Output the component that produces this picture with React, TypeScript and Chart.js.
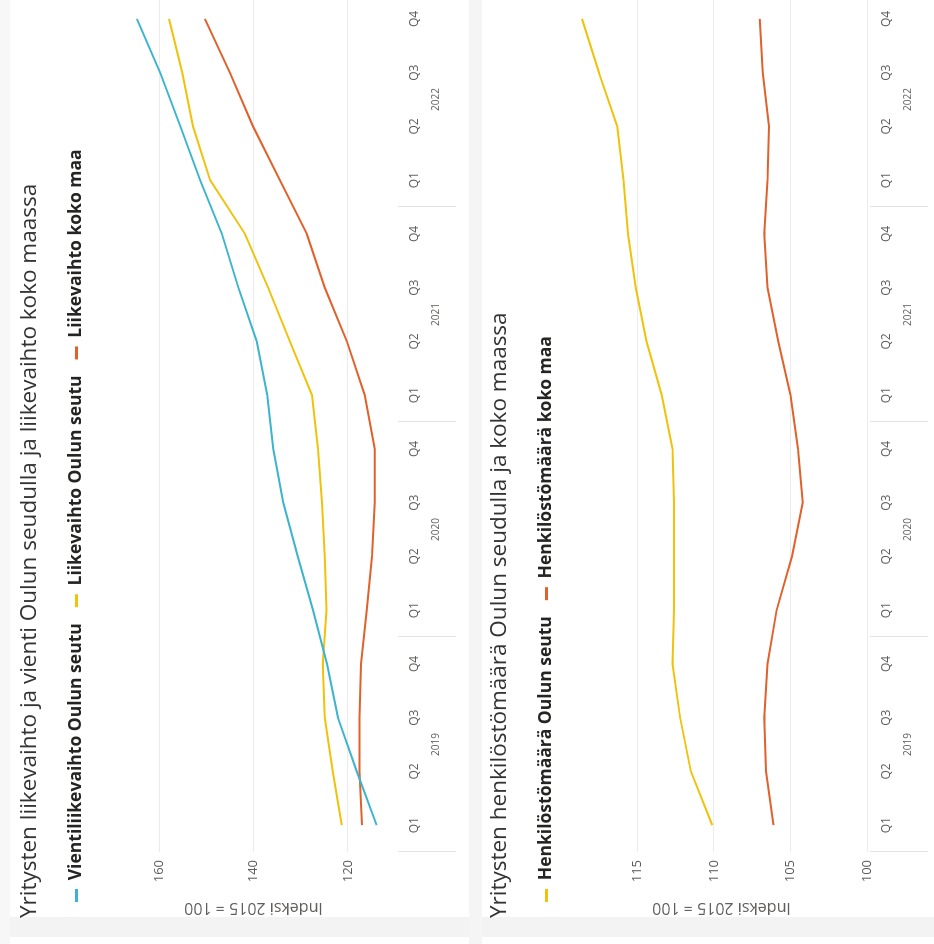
import React, { useEffect, useRef } from 'react';
import { Chart, registerables } from 'chart.js';

Chart.register(...registerables);
Chart.defaults.font.family = "'Open Sans', 'Noto Sans', sans-serif";

const quarters = ['Q1', 'Q2', 'Q3', 'Q4', 'Q1', 'Q2', 'Q3', 'Q4', 'Q1', 'Q2', 'Q3', 'Q4', 'Q1', 'Q2', 'Q3', 'Q4'];
const years = ['2019', '2020', '2021', '2022'];

const title1 = 'Yritysten liikevaihto ja vienti Oulun seudulla ja liikevaihto koko maassa';
const title2 = 'Yritysten henkilöstömäärä Oulun seudulla ja koko maassa';
const axisTitle = 'Indeksi 2015 = 100';

const vientiOulu = [113.9, 118.1, 122.1, 124.4, 127.4, 130.6, 133.7, 135.8, 137.1, 139.3, 143.2, 146.7, 151.3, 155.5, 159.8, 164.7];
const liikevaihtoOulu = [121.3, 123.2, 124.9, 125.3, 124.5, 124.9, 125.5, 126.3, 127.6, 132.3, 136.9, 141.8, 149.2, 152.8, 155.1, 157.9];
const liikevaihtoMaa = [117.0, 117.5, 117.5, 117.2, 116.0, 114.9, 114.3, 114.3, 116.4, 120.2, 124.9, 128.7, 134.4, 140.1, 145.0, 150.3];

const henkilostoOulu = [110.1, 111.5, 112.2, 112.7, 112.6, 112.6, 112.6, 112.7, 113.4, 114.4, 115.1, 115.6, 115.9, 116.3, 117.5, 118.6];
const henkilostoMaa = [106.1, 106.6, 106.7, 106.5, 105.9, 104.9, 104.2, 104.5, 105.0, 105.8, 106.5, 106.7, 106.5, 106.4, 106.8, 107.0];

const CYAN = '#3DB4CF';
const YELLOW = '#F0C20C';
const ORANGE = '#E0612B';
const TEXT = '#252423';
const TICK = '#605E5C';

const yearSeparators = {
  id: 'yearSeparators',
  afterDraw(chart: any) {
    const x = chart.scales.x;
    const ctx = chart.ctx;
    const half = (x.getPixelForValue(1) - x.getPixelForValue(0)) / 2;
    const top = chart.chartArea.bottom + 3;
    const bottom = top + 58;
    ctx.save();
    ctx.strokeStyle = '#e2e2e2';
    ctx.lineWidth = 1;
    for (let i = 0; i <= quarters.length; i += 4) {
      const px = i < quarters.length ? x.getPixelForValue(i) - half : x.getPixelForValue(i - 1) + half;
      ctx.beginPath();
      ctx.moveTo(Math.round(px) + 0.5, top);
      ctx.lineTo(Math.round(px) + 0.5, bottom);
      ctx.stroke();
    }
    ctx.restore();
  },
};

function line(label: string, data: number[], color: string) {
  return {
    label,
    data,
    borderColor: color,
    backgroundColor: color,
    borderWidth: 2,
    pointRadius: 0,
    tension: 0,
    fill: false,
  };
}

function makeConfig(opts: {
  title: string;
  datasets: any[];
  min: number;
  max: number;
  step: number;
  labelStep: number;
  spacer: number;
  bottomPad: number;
}): any {
  return {
    type: 'line',
    data: { labels: quarters, datasets: opts.datasets },
    plugins: [yearSeparators],
    options: {
      responsive: false,
      maintainAspectRatio: false,
      animation: false,
      layout: { padding: { left: 13, right: 6, top: 0, bottom: opts.bottomPad } },
      plugins: {
        title: {
          display: true,
          text: opts.title,
          align: 'start',
          color: '#333333',
          font: { size: 22.5, weight: 'normal' },
          padding: { top: 16.5, bottom: 8.25 },
        },
        legend: {
          display: true,
          position: 'top',
          align: 'start',
          labels: {
            boxWidth: 13,
            boxHeight: 3,
            padding: 16,
            color: TEXT,
            font: { size: 17.5, weight: 'bold' },
            generateLabels: (chart: any) =>
              Chart.defaults.plugins.legend.labels
                .generateLabels(chart)
                .map((l: any) => ({ ...l, lineWidth: 0 })),
          },
        },
        subtitle: {
          display: true,
          text: '',
          weight: 500,
          font: { size: 1 },
          padding: { top: opts.spacer, bottom: 0 },
        },
        tooltip: { enabled: false },
      },
      scales: {
        x: {
          type: 'category',
          offset: true,
          grid: { display: false, drawTicks: false },
          border: { display: false },
          ticks: { padding: 12, color: TICK, font: { size: 12 }, maxRotation: 0, autoSkip: false },
          afterFit: (s: any) => {
            s.height = 30;
          },
        },
        year: {
          type: 'category',
          labels: years,
          position: 'bottom',
          offset: true,
          weight: 1,
          grid: { display: false, drawTicks: false },
          border: { display: false },
          ticks: { padding: 5, color: TICK, font: { size: 10 }, maxRotation: 0, autoSkip: false },
          afterFit: (s: any) => {
            s.height = 20;
          },
        },
        y: {
          type: 'linear',
          min: opts.min,
          max: opts.max,
          afterBuildTicks: (axis: any) => {
            axis.ticks = axis.ticks.filter((t: any) => t.value % opts.labelStep === 0);
          },
          grid: { color: '#ebebeb', drawTicks: false, lineWidth: 1 },
          border: { display: false },
          ticks: { stepSize: opts.step, padding: 8, color: TICK, font: { size: 13 } },
          title: {
            display: true,
            text: axisTitle,
            color: TICK,
            font: { size: 16 },
            padding: { top: 1, bottom: 0 },
          },
          afterFit: (s: any) => {
            s.width = 66;
          },
        },
      },
    },
  };
}

export default function App() {
  const ref1 = useRef<HTMLCanvasElement>(null);
  const ref2 = useRef<HTMLCanvasElement>(null);

  useEffect(() => {
    const c1 = new Chart(
      ref1.current as HTMLCanvasElement,
      makeConfig({
        title: title1,
        datasets: [
          line('Vientiliikevaihto Oulun seutu', vientiOulu, CYAN),
          line('Liikevaihto Oulun seutu', liikevaihtoOulu, YELLOW),
          line('Liikevaihto koko maa', liikevaihtoMaa, ORANGE),
        ],
        min: 110,
        max: 170,
        step: 10,
        labelStep: 20,
        spacer: 15.5,
        bottomPad: 25,
      })
    );
    const c2 = new Chart(
      ref2.current as HTMLCanvasElement,
      makeConfig({
        title: title2,
        datasets: [
          line('Henkilöstömäärä Oulun seutu', henkilostoOulu, YELLOW),
          line('Henkilöstömäärä koko maa', henkilostoMaa, ORANGE),
        ],
        min: 100,
        max: 119,
        step: 5,
        labelStep: 5,
        spacer: 9.5,
        bottomPad: 17,
      })
    );
    return () => {
      c1.destroy();
      c2.destroy();
    };
  }, []);

  return (
    <div
      style={{
        position: 'fixed',
        left: 0,
        top: 0,
        width: 934,
        height: 944,
        overflow: 'hidden',
        background: '#ffffff',
      }}
    >
      <div
        style={{
          position: 'absolute',
          left: 0,
          top: 0,
          width: 960,
          height: 934,
          transformOrigin: '0 0',
          transform: 'translateY(944px) rotate(-90deg)',
        }}
      >
        <div style={{ position: 'absolute', left: 7, top: 0, width: 20, height: 934, background: '#f3f3f3' }} />
        <div style={{ position: 'absolute', left: 0, top: 469, width: 960, height: 13, background: '#f5f5f5' }} />
        <div style={{ position: 'absolute', left: 0, top: 0, width: 960, height: 10, background: '#f7f7f7' }} />
        <canvas
          ref={ref1}
          width={945}
          height={470}
          style={{ position: 'absolute', left: 13, top: 0, width: 945, height: 470 }}
        />
        <canvas
          ref={ref2}
          width={945}
          height={464}
          style={{ position: 'absolute', left: 13, top: 470, width: 945, height: 464 }}
        />
      </div>
    </div>
  );
}
